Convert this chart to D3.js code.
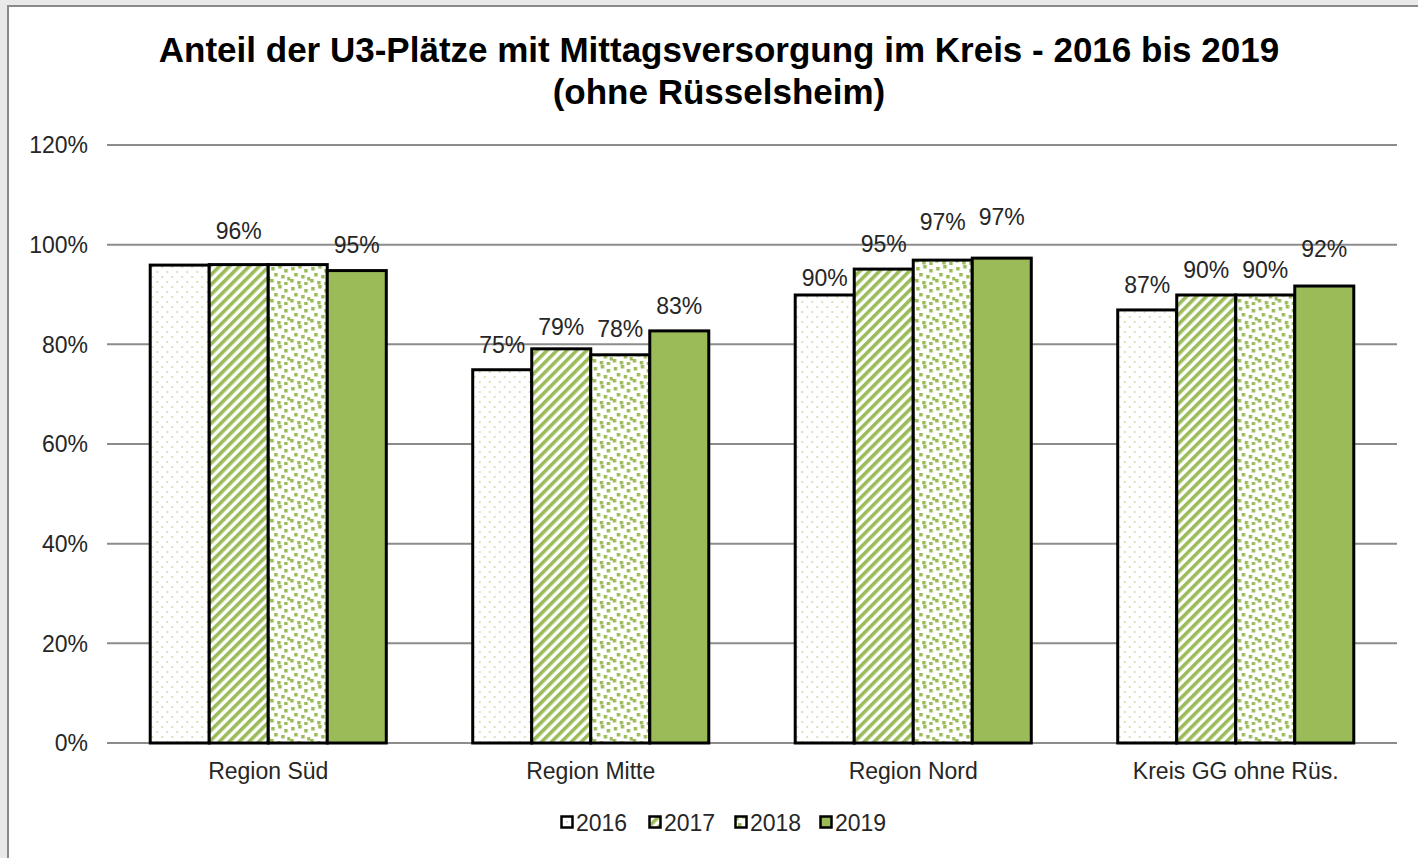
<!DOCTYPE html>
<html>
<head>
<meta charset="utf-8">
<script src="https://cdn.jsdelivr.net/npm/d3@7"></script>
<style>
  body { margin: 0; background: #e9e9e9; }
  svg { display: block; font-family: "Liberation Sans", Arial, sans-serif; }
</style>
</head>
<body>
<svg id="chart" width="1418" height="858"></svg>
<script>
var categories = ["Region Süd", "Region Mitte", "Region Nord", "Kreis GG ohne Rüs."];
var years = ["2016", "2017", "2018", "2019"];
var values = {
    "2016": [95.9, 74.9, 89.9, 86.9],
    "2017": [96.0, 79.1, 95.1, 89.9],
    "2018": [96.0, 77.9, 96.9, 89.9],
    "2019": [94.8, 82.7, 97.3, 91.7]
};
// shown labels (Excel dropped some overlapping ones in Region Süd)
var labels = {
    "2016": [null, "75%", "90%", "87%"],
    "2017": ["96%", "79%", "95%", "90%"],
    "2018": [null, "78%", "97%", "90%"],
    "2019": ["95%", "83%", "97%", "92%"]
};
var yTicks = [0, 20, 40, 60, 80, 100, 120];

// how far each label baseline sits above its bar (Excel nudged some of them)
var labelLift = {
    "2016": [17, 17, 9, 17],
    "2017": [26, 14, 17, 17],
    "2018": [17, 18, 30, 17],
    "2019": [18, 17, 33, 29]
};

var width = 1418, height = 858;
var margins = {left: 107, right: 21, top: 145, bottom: 115};
var green = "#9bbb59";
var textCol = "#262626";

var svg = d3.select("#chart");

svg.append("rect")
    .attr("x", 8).attr("y", 6)
    .attr("width", width + 10).attr("height", height + 10)
    .attr("fill", "#fff")
    .attr("stroke", "#8a8a8a")
    .attr("stroke-width", 2);

// patterns
var defs = svg.append("defs");

var p16 = defs.append("pattern").attr("id", "pat2016")
    .attr("patternUnits", "userSpaceOnUse").attr("width", 10).attr("height", 10);
p16.append("rect").attr("width", 10).attr("height", 10).attr("fill", "#fff");
p16.append("rect").attr("x", 1).attr("y", 1).attr("width", 2).attr("height", 2).attr("fill", "#d6e3bd");
p16.append("rect").attr("x", 6).attr("y", 6).attr("width", 2).attr("height", 2).attr("fill", "#d6e3bd");

var p17 = defs.append("pattern").attr("id", "pat2017")
    .attr("patternUnits", "userSpaceOnUse").attr("width", 7).attr("height", 7)
    .attr("patternTransform", "rotate(45)");
p17.append("rect").attr("width", 7).attr("height", 7).attr("fill", "#fff");
p17.append("rect").attr("x", 0).attr("y", 0).attr("width", 3.6).attr("height", 7).attr("fill", green);

var p18 = defs.append("pattern").attr("id", "pat2018")
    .attr("patternUnits", "userSpaceOnUse").attr("width", 20).attr("height", 20);
p18.append("rect").attr("width", 20).attr("height", 20).attr("fill", "#fff");
[[1, 2], [8, 0], [14, 4], [4, 8], [11, 10], [17, 12], [0, 14], [7, 16], [14, 17]].forEach(function(p) {
    p18.append("rect").attr("x", p[0]).attr("y", p[1]).attr("width", 3.5).attr("height", 3.5).attr("fill", green);
});

var fills = {"2016": "url(#pat2016)", "2017": "url(#pat2017)", "2018": "url(#pat2018)", "2019": green};

// title
var title = svg.append("text")
    .attr("text-anchor", "middle")
    .attr("font-weight", "bold").attr("font-size", 35).attr("fill", "#000");
title.append("tspan").attr("x", 719).attr("y", 62).text("Anteil der U3-Plätze mit Mittagsversorgung im Kreis - 2016 bis 2019");
title.append("tspan").attr("x", 719).attr("y", 104).text("(ohne Rüsselsheim)");

var innerW = width - margins.left - margins.right;
var innerH = height - margins.top - margins.bottom;

var x0 = d3.scaleBand().domain(categories).range([0, innerW]).paddingInner(0.268).paddingOuter(0.134);
var x1 = d3.scaleBand().domain(years).range([0, x0.bandwidth()]).padding(0);
var y = d3.scaleLinear().domain([0, 120]).range([innerH, 0]);

var g = svg.append("g").attr("transform", "translate(" + margins.left + "," + margins.top + ")");

// gridlines
g.selectAll(".grid").data(yTicks).enter().append("line")
    .attr("x1", 0).attr("x2", innerW)
    .attr("y1", d => y(d)).attr("y2", d => y(d))
    .attr("stroke", "#8c8c8c").attr("stroke-width", 2);

// y axis labels
g.selectAll(".ylab").data(yTicks).enter().append("text")
    .attr("x", -19).attr("y", d => y(d)).attr("dy", "0.36em")
    .attr("text-anchor", "end").attr("font-size", 23).attr("fill", textCol)
    .text(d => d + "%");

// bars
var groups = g.selectAll(".grp").data(categories).enter().append("g")
    .attr("transform", d => "translate(" + x0(d) + ",0)");

var rows = (d, i) => years.map(yr => ({yr: yr, v: values[yr][i], lab: labels[yr][i], lift: labelLift[yr][i]}));

groups.selectAll("rect").data(rows)
    .enter().append("rect")
    .attr("x", d => x1(d.yr)).attr("width", x1.bandwidth())
    .attr("y", d => y(d.v)).attr("height", d => innerH - y(d.v))
    .attr("fill", d => fills[d.yr])
    .attr("stroke", "#000").attr("stroke-width", 3);

groups.selectAll(".lab").data((d, i) => rows(d, i).filter(r => r.lab))
    .enter().append("text")
    .attr("x", d => x1(d.yr) + x1.bandwidth() / 2)
    .attr("y", d => y(d.v) - d.lift)
    .attr("text-anchor", "middle").attr("font-size", 23).attr("fill", textCol)
    .text(d => d.lab);

// category labels
g.selectAll(".cat").data(categories).enter().append("text")
    .attr("x", d => x0(d) + x0.bandwidth() / 2)
    .attr("y", innerH + 36)
    .attr("text-anchor", "middle").attr("font-size", 23).attr("fill", textCol)
    .text(d => d);

// legend
var legendX = [560, 648, 734, 819];
var legend = svg.selectAll(".leg").data(years).enter().append("g")
    .attr("transform", (d, i) => "translate(" + legendX[i] + ",815)");
legend.append("rect")
    .attr("x", 1.5).attr("y", 1.5).attr("width", 11).attr("height", 11)
    .attr("fill", d => fills[d]).attr("stroke", "#000").attr("stroke-width", 2.5);
legend.append("text")
    .attr("x", 16).attr("y", 7.5).attr("dy", "0.36em")
    .attr("font-size", 23).attr("fill", textCol)
    .text(d => d);
</script>
</body>
</html>
